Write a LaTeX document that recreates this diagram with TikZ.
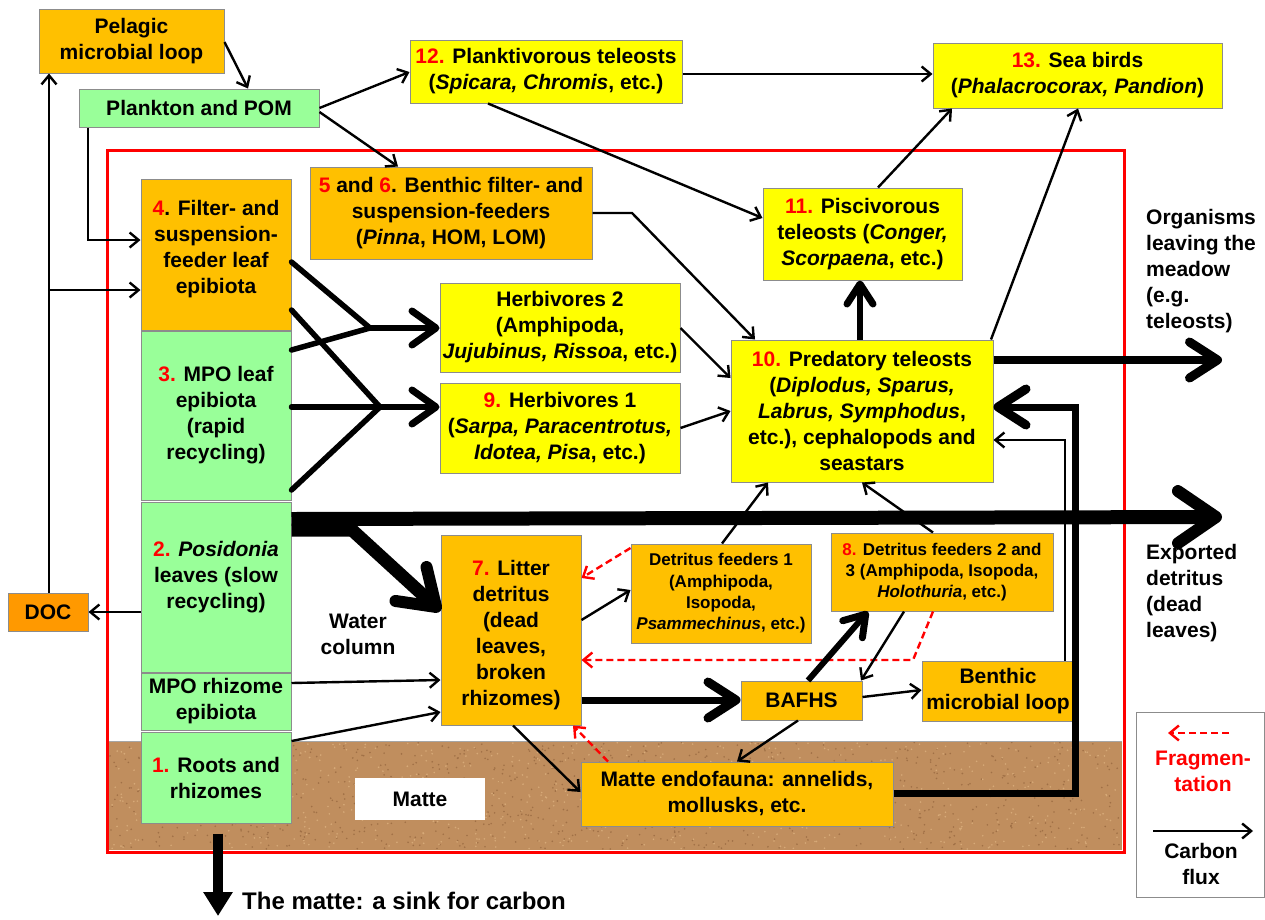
\documentclass[tikz,border=0pt]{standalone}
\usepackage{fontspec}
\setmainfont{Liberation Sans}
\usetikzlibrary{arrows.meta,calc}
\definecolor{orgC}{RGB}{255,192,0}
\definecolor{yelC}{RGB}{255,255,0}
\definecolor{grnC}{RGB}{153,255,153}
\definecolor{docC}{RGB}{255,153,0}
\definecolor{mudC}{RGB}{192,142,94}
\definecolor{mudD}{RGB}{160,112,70}
\definecolor{mudL}{RGB}{215,170,120}
\definecolor{redN}{RGB}{255,0,0}
\newcommand\rn[1]{\textcolor{redN}{#1}}
\newcommand\mainfnt{\fontsize{21}{26}\selectfont\bfseries}
\newcommand\smallfnt{\fontsize{17}{21.3}\selectfont\bfseries}
\tikzset{
  nbox/.style={draw=black!45, line width=1pt, inner sep=0pt, align=center, font=\mainfnt},
  orbox/.style={nbox, fill=orgC},
  yebox/.style={nbox, fill=yelC},
  grbox/.style={nbox, fill=grnC},
  lbl/.style={inner sep=0pt, font=\mainfnt},
  ta/.style={line width=2.4pt, -{Straight Barb[length=9pt,width=15pt,line width=2.4pt]}},
  frag/.style={redN, line width=2.4pt, dash pattern=on 7pt off 4pt, -{Straight Barb[length=9pt,width=15pt,line width=2.4pt]}},
  ka/.style={line width=5.5pt, line cap=round, -{Straight Barb[length=24pt,width=34pt,line width=7pt,round]}},
  kl/.style={line width=5.5pt, line cap=round},
  ma/.style={line width=6pt, -{Straight Barb[length=20pt,width=26pt,line width=7pt,round]}},
  ba/.style={line width=8pt, -{Straight Barb[length=28pt,width=36pt,line width=9pt,round]}},
  ha/.style={line width=14pt, -{Straight Barb[length=38pt,width=52pt,line width=12pt,round]}},
}
\begin{document}
\begin{tikzpicture}[x=1pt,y=-1pt]
\useasboundingbox (0,0) rectangle (1265,919);
\fill[white] (0,0) rectangle (1265,919);
% matte ground
\fill[mudC] (109,741) rectangle (1122,850);
\pgfmathsetseed{7}
\foreach \i in {1,...,900}{
  \pgfmathsetmacro\rx{110+rnd*1011}
  \pgfmathsetmacro\ry{742+rnd*107}
  \fill[mudD] (\rx,\ry) circle (0.9pt);
}
\foreach \i in {1,...,700}{
  \pgfmathsetmacro\rx{110+rnd*1011}
  \pgfmathsetmacro\ry{742+rnd*107}
  \fill[mudL] (\rx,\ry) circle (0.9pt);
}
\draw[black!35, line width=1pt] (109,741) -- (1122,741);
% red frame
\draw[redN, line width=3pt] (107,150) rectangle (1124,852);

% nodes
\node[orbox, minimum width=185pt, minimum height=64pt] (pml) at (131.5,41) {Pelagic\\microbial loop};
\node[grbox, minimum width=240pt, minimum height=38pt] (pom) at (199,108) {Plankton and POM};
\node[yebox, minimum width=272pt, minimum height=63pt] (n12) at (546,71.5) {\rn{12.} Planktivorous teleosts\\(\textit{Spicara, Chromis}, etc.)};
\node[yebox, minimum width=289pt, minimum height=65pt] (n13) at (1077.5,75.5) {\rn{13.} Sea birds\\(\textit{Phalacrocorax, Pandion})};
\node[orbox, minimum width=282pt, minimum height=92pt] (n56) at (451,213) {\rn{5} and \rn{6}. Benthic filter- and\\suspension-feeders\\(\textit{Pinna}, HOM, LOM)};
\node[yebox, minimum width=199pt, minimum height=92pt] (n11) at (862.5,234) {\rn{11.} Piscivorous\\teleosts (\textit{Conger,}\\\textit{Scorpaena}, etc.)};
\node[orbox, minimum width=150pt, minimum height=151pt] (n4) at (216,254.5) {\rn{4}. Filter- and\\suspension-\\feeder leaf\\epibiota\\[-11pt]};
\node[grbox, minimum width=150pt, minimum height=169pt] (n3) at (216,415.5) {\rn{3.} MPO leaf\\epibiota\\(rapid\\recycling)};
\node[grbox, minimum width=150pt, minimum height=170pt] (n2) at (216,587) {\rn{2.} \textit{Posidonia}\\leaves (slow\\recycling)\\[-1pt]};
\node[grbox, minimum width=150pt, minimum height=57pt] (mpor) at (216,701.5) {MPO rhizome\\epibiota};
\node[grbox, minimum width=150pt, minimum height=91pt] (n1) at (216,777.5) {\rn{1.} Roots and\\rhizomes};
\node[yebox, minimum width=240pt, minimum height=89pt] (h2) at (560,327.5) {Herbivores 2\\(Amphipoda,\\\textit{Jujubinus, Rissoa}, etc.)};
\node[yebox, minimum width=240pt, minimum height=90pt] (h1) at (560,428) {\rn{9.} Herbivores 1\\(\textit{Sarpa, Paracentrotus,}\\\textit{Idotea, Pisa}, etc.)};
\node[yebox, minimum width=262pt, minimum height=142pt] (n10) at (862,411) {\rn{10.} Predatory teleosts\\(\textit{Diplodus, Sparus,}\\\textit{Labrus, Symphodus},\\etc.), cephalopods and\\seastars};
\node[nbox, fill=docC, minimum width=80pt, minimum height=38pt] (doc) at (48,612) {DOC};
\node[orbox, minimum width=140pt, minimum height=190pt] (n7) at (511,630) {\mbox{}\\[-1pt]\rn{7.} Litter\\detritus\\(dead\\leaves,\\broken\\rhizomes)};
\node[orbox, font=\smallfnt, minimum width=180pt, minimum height=99pt] (df1) at (721,593.5) {Detritus feeders 1\\(Amphipoda,\\Isopoda,\\\textit{Psammechinus}, etc.)};
\node[orbox, font=\smallfnt, minimum width=222pt, minimum height=78pt] (n8) at (942,572) {\rn{8.} Detritus feeders 2 and\\3 (Amphipoda, Isopoda,\\\textit{Holothuria}, etc.)};
\node[orbox, minimum width=121pt, minimum height=39pt] (bafhs) at (801.5,700.5) {BAFHS};
\node[orbox, minimum width=152pt, minimum height=60pt] (bml) at (998,691) {Benthic\\microbial loop};
\node[orbox, minimum width=312pt, minimum height=64pt] (me) at (737,794) {Matte endofauna: annelids,\\mollusks, etc.};
\node[fill=white, inner sep=0pt, minimum width=130pt, minimum height=42pt, font=\mainfnt] (matte) at (420,799) {Matte};
\node[lbl, align=center] (wc) at (358,634) {Water\\column};
\node[lbl, align=left, anchor=west] (org) at (1146,271) {Organisms\\leaving the\\meadow\\(e.g.\\teleosts)};
\node[lbl, align=left, anchor=west] (exp) at (1146,593) {Exported\\detritus\\(dead\\leaves)};
\node[inner sep=0pt, anchor=west, font=\fontsize{24}{28}\selectfont\bfseries] (sink) at (242,901) {The matte: a sink for carbon};
% legend
\node[draw=black!45, line width=1pt, minimum width=128pt, minimum height=185pt, inner sep=0pt] (leg) at (1200,804.5) {};
\node[lbl, align=center, text=redN] (legf) at (1203,771) {Fragmen-\\tation};
\node[lbl, align=center] (legc) at (1201,864) {Carbon\\flux};
\coordinate (lf1) at (1229,733); \coordinate (lf2) at (1168,733);
\coordinate (lc1) at (1153,831); \coordinate (lc2) at (1253,831);
\draw[frag] (lf1) -- (lf2);
\draw[ta] (lc1) -- (lc2);

% free ends / junctions
\coordinate (j1) at (49,290);
\coordinate (ja) at (370,328);
\coordinate (jb) at (380,407);
\coordinate (orgend) at (1222,360);
\coordinate (expend) at (1222,517);
\coordinate (sinkend) at (218,916);

% connectors
\draw[ta] (pml.east |- 0,42) -- (pom.north -| 248,0);
\draw[ta] (doc.north -| 49,0) -- (pml.south -| 49,0);
\draw[ta] (j1) -- (n4.west |- 0,290);
\draw[ta] (pom.south -| 88,0) -- (88,240) -- (n4.west |- 0,240);
\draw[ta] (pom.east |- 0,108) -- (n12.west |- 0,72);
\draw[ta] (pom.east |- 0,112) -- (n56.north -| 398,0);
\draw[ta] (n12.east |- 0,74) -- (n13.west |- 0,74);
\draw[ta] (n12.south -| 488,0) -- (n11.west |- 0,218);
\draw[ta] (n11.north -| 878,0) -- (n13.south -| 952,0);
\draw[ta] (n10.north -| 991,0) -- (n13.south -| 1078,0);
\draw[ta] (n56.east |- 0,213) -- (632,213) -- (n10.north -| 755,0);
\draw[ta] (h2.east |- 0,328) -- (n10.west |- 0,378);
\draw[ta] (h1.east |- 0,428) -- (n10.west |- 0,411);
\draw[ma] (n10.north -| 860,0) -- (n11.south -| 860,0);
\draw[ba] (n10.east |- 0,360) -- (orgend);
\draw[ta] (bml.north -| 1065,0) -- (1065,440) -- (n10.east |- 0,440);
\draw[ta] (df1.north -| 722,0) -- (n10.south -| 768,0);
\draw[ta] (n8.north -| 933,0) -- (n10.south -| 862,0);
% Posidonia export
\draw[ha] (n2.east |- 0,519) -- (expend);
\draw[line width=13pt, -{Straight Barb[length=34pt,width=46pt,line width=12pt,round]}] (n2.east |- 0,530) -- (352,530) -- (n7.west |- 0,611);
\draw[ba, line width=7pt] (me.east |- 0,793) -- (1075,793) -- (1075,407) -- (n10.east |- 0,407);
% leaf epibiota to herbivores
\draw[kl] (n4.east |- 0,262) -- (ja);
\draw[kl] (n3.east |- 0,350) -- (ja);
\draw[ka] (ja) -- (h2.west |- 0,328);
\draw[kl] (n4.east |- 0,310) -- (jb);
\draw[kl] (n3.east |- 0,407) -- (jb);
\draw[kl] (n3.east |- 0,490) -- (jb);
\draw[ka] (jb) -- (h1.west |- 0,407);
% detritus
\draw[ta] (mpor.east |- 0,683) -- (n7.west |- 0,680);
\draw[ta] (n1.east |- 0,741) -- (n7.west |- 0,712);
\draw[ta] (n7.east |- 0,620) -- (df1.west |- 0,590);
\draw[ba, line width=7pt] (n7.east |- 0,700) -- (bafhs.west |- 0,700);
\draw[ta] (n7.south -| 513,0) -- (me.west |- 0,792);
\draw[frag] (df1.west |- 0,548) -- (n7.east |- 0,578);
\draw[frag] (n8.south -| 933,0) -- (913,660) -- (n7.east |- 0,660);
\draw[frag] (me.north -| 608,0) -- (n7.south -| 573,0);
\draw[ma] (bafhs.north -| 808,0) -- (n8.south -| 868,0);
\draw[ta] (n8.south -| 904,0) -- (bafhs.north -| 861,0);
\draw[ta] (bafhs.east |- 0,697) -- (bml.west |- 0,690);
\draw[ta] (bafhs.south -| 798,0) -- (me.north -| 737,0);
\draw[ta] (n2.west |- 0,612) -- (doc.east |- 0,612);
\draw[line width=10pt, shorten <=10pt, -{Triangle[length=24pt,width=28pt]}] (n1.south -| 218,0) -- (sinkend);
\end{tikzpicture}
\end{document}
